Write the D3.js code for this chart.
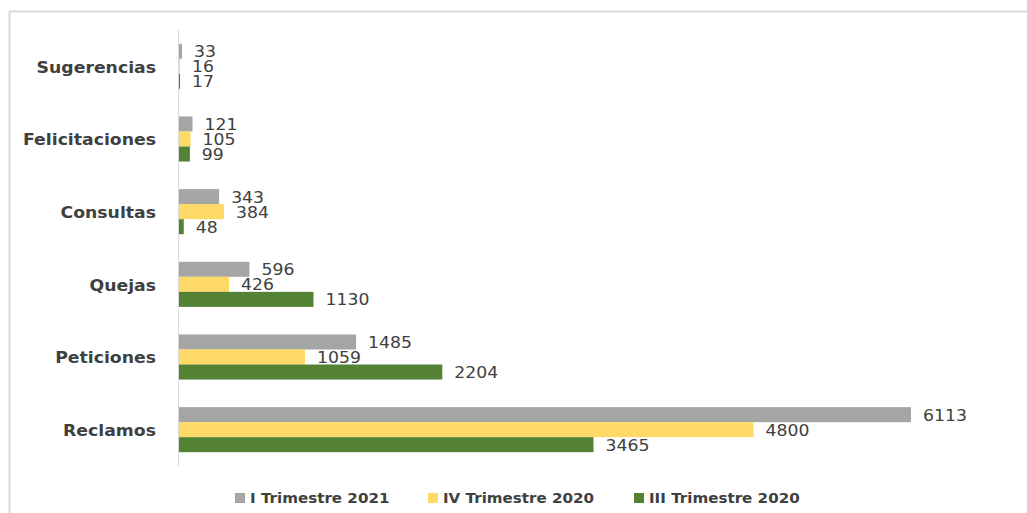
<!DOCTYPE html>
<html>
<head>
<meta charset="utf-8">
<script src="https://cdn.jsdelivr.net/npm/d3@7"></script>
<style>
  body { margin: 0; background: #fff; }
  svg { display: block; font-family: "DejaVu Sans", Verdana, sans-serif; }
</style>
</head>
<body>
<div id="chart"></div>
<script>
// categories top -> bottom
var categories = ["Sugerencias", "Felicitaciones", "Consultas", "Quejas", "Peticiones", "Reclamos"];
var seriesNames = ["I Trimestre 2021", "IV Trimestre 2020", "III Trimestre 2020"];
var colors = ["#a5a5a5", "#ffd966", "#548235"];

var trim1_2021 = [33, 121, 343, 596, 1485, 6113];
var trim4_2020 = [16, 105, 384, 426, 1059, 4800];
var trim3_2020 = [17, 99, 48, 1130, 2204, 3465];
var seriesValues = [trim1_2021, trim4_2020, trim3_2020];

var width = 1027, height = 513;
var plot = {left: 178, top: 30, bottom: 466};

var svg = d3.select("#chart").append("svg")
    .attr("width", width)
    .attr("height", height);

// outer frame (top + left edges visible)
svg.append("path")
    .attr("d", "M9.5,513 L9.5,11.5 L1027,11.5")
    .attr("fill", "none")
    .attr("stroke", "#d9d9d9")
    .attr("stroke-width", 2);

var x = d3.scaleLinear()
    .domain([0, 6113])
    .range([plot.left, 911]);

var y = d3.scaleBand()
    .domain(categories)
    .range([plot.top, plot.bottom])
    .paddingInner(0.38)
    .paddingOuter(0.19);

var ySub = d3.scaleBand()
    .domain(d3.range(seriesNames.length))
    .range([0, y.bandwidth()]);

// text in the picture is a bit stretched sideways
function place(tx, ty, sx) {
    return "translate(" + tx + "," + ty + ") scale(" + sx + ",1)";
}

var groups = svg.selectAll(".series")
    .data(seriesValues)
    .enter()
    .append("g")
    .attr("class", "series");

groups.selectAll("rect")
    .data(function(d, i){ return d.map(function(v, j){ return {v: v, cat: categories[j], s: i}; }); })
    .enter()
    .append("rect")
    .attr("x", x(0))
    .attr("y", function(d){ return y(d.cat) + ySub(d.s); })
    .attr("width", function(d){ return x(d.v) - x(0); })
    .attr("height", ySub.bandwidth())
    .attr("fill", function(d){ return colors[d.s]; });

groups.selectAll("text")
    .data(function(d, i){ return d.map(function(v, j){ return {v: v, cat: categories[j], s: i}; }); })
    .enter()
    .append("text")
    .attr("transform", function(d){
        return place(x(d.v) + 12, y(d.cat) + ySub(d.s) + ySub.bandwidth() / 2 + 1, 1.15);
    })
    .attr("dominant-baseline", "central")
    .attr("font-size", 15)
    .attr("fill", "#404040")
    .text(function(d){ return d.v; });

// axis line
svg.append("line")
    .attr("x1", x(0) + 0.5).attr("x2", x(0) + 0.5)
    .attr("y1", plot.top).attr("y2", plot.bottom)
    .attr("stroke", "#d9d9d9");

// category labels
svg.selectAll(".cat")
    .data(categories)
    .enter()
    .append("text")
    .attr("class", "cat")
    .attr("transform", function(d){ return place(156, y(d) + y.bandwidth() / 2 + 1, 1.08); })
    .attr("dominant-baseline", "central")
    .attr("text-anchor", "end")
    .attr("font-size", 16)
    .attr("font-weight", "bold")
    .attr("fill", "#404040")
    .text(function(d){ return d; });

// legend
var legendX = [235, 428, 634];
var legend = svg.selectAll(".legend")
    .data(seriesNames)
    .enter()
    .append("g")
    .attr("class", "legend")
    .attr("transform", function(d, i){ return "translate(" + legendX[i] + ",498)"; });

legend.append("rect")
    .attr("x", 0).attr("y", -5)
    .attr("width", 10).attr("height", 10)
    .attr("fill", function(d, i){ return colors[i]; });

legend.append("text")
    .attr("transform", place(15, 0, 1.12))
    .attr("dominant-baseline", "central")
    .attr("font-size", 13.5)
    .attr("font-weight", "bold")
    .attr("fill", "#404040")
    .text(function(d){ return d; });
</script>
</body>
</html>
